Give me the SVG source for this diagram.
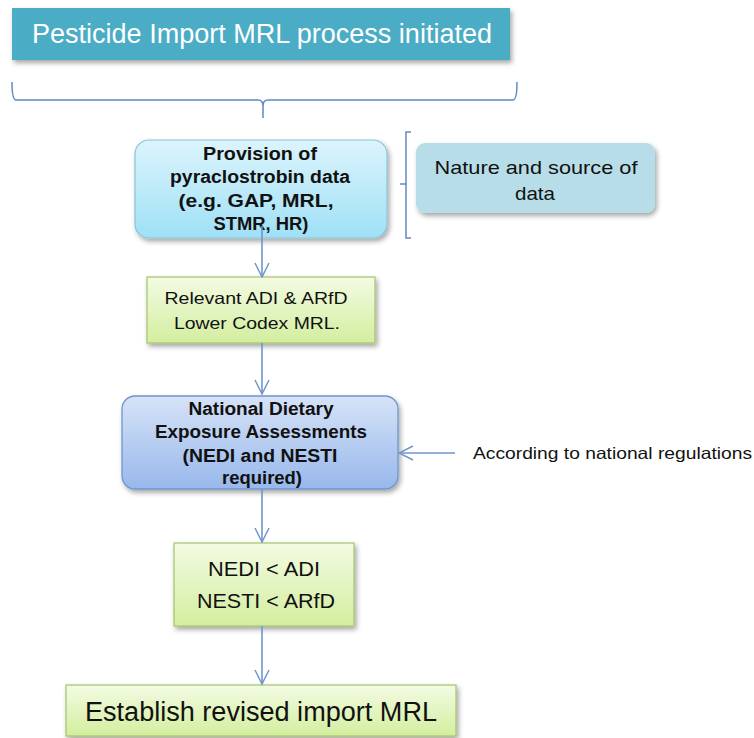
<svg xmlns="http://www.w3.org/2000/svg" width="754" height="738" viewBox="0 0 754 738">
<defs>
<filter id="sh" x="-10%" y="-10%" width="125%" height="135%">
<feDropShadow dx="2" dy="3" stdDeviation="2.5" flood-color="#000" flood-opacity="0.35"/>
</filter>
<linearGradient id="gCyan" x1="0" y1="0" x2="0" y2="1">
<stop offset="0" stop-color="#dcf4fc"/><stop offset="1" stop-color="#9fe0f6"/>
</linearGradient>
<linearGradient id="gGreen" x1="0" y1="0" x2="0" y2="1">
<stop offset="0" stop-color="#f3fbe3"/><stop offset="1" stop-color="#d3ee9f"/>
</linearGradient>
<linearGradient id="gBlue" x1="0" y1="0" x2="0" y2="1">
<stop offset="0" stop-color="#d6e3f7"/><stop offset="1" stop-color="#98b8ec"/>
</linearGradient>
<marker id="ar" viewBox="0 0 16 16" refX="15" refY="8" markerWidth="16" markerHeight="16" markerUnits="userSpaceOnUse" orient="auto">
<path d="M1,1 L15,8 L1,15" fill="none" stroke="#6f96cc" stroke-width="1.5"/>
</marker>
</defs>
<style>
.lab{font-family:"Liberation Sans",Arial,sans-serif;fill:#111;text-anchor:middle}
.b{font-weight:bold;font-size:18px}
.con{fill:none;stroke:#6f96cc;stroke-width:1.6}
.br{fill:none;stroke:#6288c4;stroke-width:1.5}
</style>
<g id="start">
<rect x="12" y="8" width="498" height="52" fill="#4bacc6" filter="url(#sh)"/>
<text x="262" y="43" class="lab" style="fill:#fff;font-size:27px" textLength="460" lengthAdjust="spacingAndGlyphs">Pesticide Import MRL process initiated</text>
</g>
<g id="brace-top">
<path class="br" d="M12,82 Q12,100 16,100 L258,100 Q263,100 263,106 L263,118 M263,106 Q263,100 268,100 L513,100 Q517,100 517,82"/>
</g>
<g id="provision">
<rect x="135" y="140" width="252" height="98" rx="14" fill="url(#gCyan)" stroke="#8ac3d8" stroke-width="1.2" filter="url(#sh)"/>
<text class="lab b" x="260" y="160" textLength="114" lengthAdjust="spacingAndGlyphs">Provision of</text>
<text class="lab b" x="260" y="183" textLength="180" lengthAdjust="spacingAndGlyphs">pyraclostrobin data</text>
<text class="lab b" x="256" y="207" textLength="155" lengthAdjust="spacingAndGlyphs">(e.g. GAP, MRL,</text>
<text class="lab b" x="261" y="230" textLength="95" lengthAdjust="spacingAndGlyphs">STMR, HR)</text>
</g>
<g id="brace-side">
<path class="br" d="M411,132 L406,132 L406,238 L411,238 M406,184 L400,184"/>
</g>
<g id="nature">
<rect x="416" y="143" width="239" height="70" rx="9" fill="#b7dde8" filter="url(#sh)"/>
<text class="lab" style="font-size:19px" x="536" y="174" textLength="203" lengthAdjust="spacingAndGlyphs">Nature and source of</text>
<text class="lab" style="font-size:19px" x="535" y="200" textLength="40" lengthAdjust="spacingAndGlyphs">data</text>
</g>
<g id="relevant">
<rect x="147" y="277" width="228" height="66" fill="url(#gGreen)" stroke="#a6c46a" stroke-width="1.2" filter="url(#sh)"/>
<text class="lab" style="font-size:16.5px" x="256" y="304" textLength="183" lengthAdjust="spacingAndGlyphs">Relevant  ADI &amp; ARfD</text>
<text class="lab" style="font-size:16.5px" x="257" y="329" textLength="166" lengthAdjust="spacingAndGlyphs">Lower  Codex  MRL.</text>
</g>
<g id="national">
<rect x="122" y="396" width="276" height="93" rx="13" fill="url(#gBlue)" stroke="#6f96cc" stroke-width="1.3" filter="url(#sh)"/>
<text class="lab b" x="261" y="415" textLength="145" lengthAdjust="spacingAndGlyphs">National Dietary</text>
<text class="lab b" x="261" y="438" textLength="212" lengthAdjust="spacingAndGlyphs">Exposure  Assessments</text>
<text class="lab b" x="260" y="462" textLength="155" lengthAdjust="spacingAndGlyphs">(NEDI  and NESTI</text>
<text class="lab b" x="262" y="484" textLength="80" lengthAdjust="spacingAndGlyphs">required)</text>
</g>
<g id="regulations">
<text class="lab" style="font-size:16.5px;text-anchor:start" x="473" y="459" textLength="279" lengthAdjust="spacingAndGlyphs">According to national  regulations</text>
</g>
<g id="check">
<rect x="174" y="543" width="180" height="83" fill="url(#gGreen)" stroke="#a6c46a" stroke-width="1.2" filter="url(#sh)"/>
<text class="lab" style="font-size:21px" x="264" y="576" textLength="112" lengthAdjust="spacingAndGlyphs">NEDI &lt; ADI</text>
<text class="lab" style="font-size:21px" x="266" y="608" textLength="138" lengthAdjust="spacingAndGlyphs">NESTI &lt; ARfD</text>
</g>
<g id="establish">
<rect x="66" y="685" width="390" height="51" fill="url(#gGreen)" stroke="#a6c46a" stroke-width="1.2" filter="url(#sh)"/>
<text class="lab" style="font-size:27px" x="261" y="721" textLength="352" lengthAdjust="spacingAndGlyphs">Establish  revised import MRL</text>
</g>
<g id="connectors">
<path class="con" d="M262,226 L262,277" marker-end="url(#ar)"/>
<path class="con" d="M262,343 L262,394" marker-end="url(#ar)"/>
<path class="con" d="M262,489 L262,542" marker-end="url(#ar)"/>
<path class="con" d="M262,626 L262,684" marker-end="url(#ar)"/>
<path class="con" d="M455,453 L399,453" marker-end="url(#ar)"/>
</g>
</svg>
